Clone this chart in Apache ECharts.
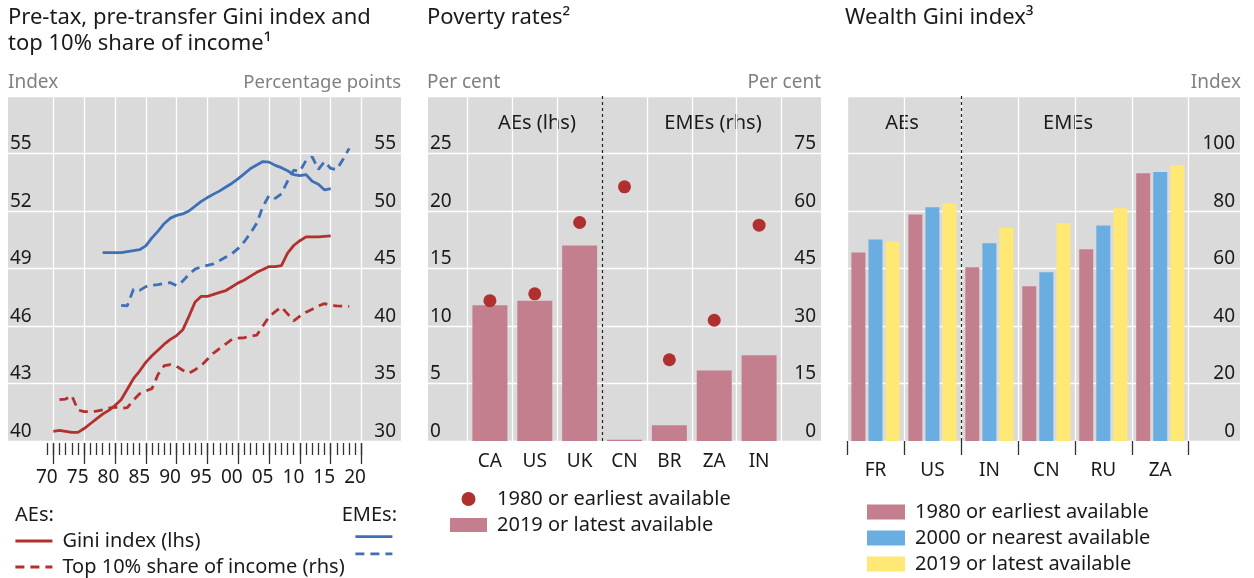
<!DOCTYPE html>
<html>
<head>
<meta charset="utf-8">
<script src="https://cdn.jsdelivr.net/npm/echarts@6/dist/echarts.min.js"></script>
<style>
html, body { margin: 0; padding: 0; background: #fff; }
#chart { width: 1254px; height: 578px; }
</style>
</head>
<body>
<div id="chart"></div>
<script>
var FONT = '"Noto Sans", sans-serif';
var INK = '#1a1a1a', GREY = '#808080', PANEL = '#dadada';
var RED = '#b2312e', BLUE = '#3f6fb6', DOT = '#b0302f';
var PINK = '#c47f8f', SKY = '#6aade0', YELLOW = '#ffe874';

// left panel: pre-tax Gini (lhs) and top 10% share (rhs), one value per year
var aeGiniStart = 1970;
var aeGini = [40.5, 40.55, 40.5, 40.45, 40.45, 40.65, 40.9, 41.15, 41.4, 41.6,
	41.85, 42.15, 42.7, 43.25, 43.65, 44.1, 44.45, 44.75, 45.05, 45.3,
	45.5, 45.8, 46.5, 47.25, 47.55, 47.55, 47.65, 47.75, 47.85, 48.05,
	48.25, 48.4, 48.6, 48.8, 48.95, 49.1, 49.1, 49.15, 49.8, 50.2,
	50.45, 50.65, 50.65, 50.65, 50.68, 50.7];
var emeGiniStart = 1978;
var emeGini = [49.83, 49.83,
	49.83, 49.83, 49.88, 49.93, 49.98, 50.18, 50.6, 50.95, 51.35, 51.63,
	51.77, 51.85, 52.0, 52.25, 52.5, 52.7, 52.88, 53.05, 53.25, 53.45,
	53.69, 53.95, 54.22, 54.4, 54.58, 54.55, 54.38, 54.26, 54.1, 53.9,
	53.85, 53.9, 53.55, 53.4, 53.1, 53.17];
var aeTop10Start = 1971;
var aeTop10 = [33.6, 33.65, 33.95, 32.7, 32.55, 32.55, 32.6, 32.7, 32.85,
	32.95, 32.85, 32.9, 33.55, 34.1, 34.35, 34.55, 35.8, 36.55, 36.65,
	36.5, 36.15, 35.9, 36.2, 36.55, 37.1, 37.65, 38.05, 38.45, 38.85,
	38.95, 38.98, 39.1, 39.2, 40.0, 40.8, 41.25, 41.65, 41.05, 40.45,
	40.85, 41.2, 41.45, 41.75, 41.95, 41.8, 41.75, 41.72, 41.7];
var emeTop10Start = 1981;
var emeTop10 = [41.8, 41.75, 43.2, 43.1, 43.42, 43.55, 43.6, 43.7, 43.77,
	43.5, 43.9, 44.5, 44.95, 45.15, 45.28, 45.4, 45.7, 46.0, 46.3,
	46.75, 47.35, 48.1, 48.93, 50.4, 51.35, 51.1, 51.5, 52.6, 53.55,
	53.45, 54.4, 54.7, 53.62, 54.3, 53.7, 53.6, 54.5, 55.45];
var yearTicks = [1970, 1975, 1980, 1985, 1990, 1995, 2000, 2005, 2010, 2015, 2020];
var yearMinorTicks = [];
for( var yr = 1969; yr <= 2020; yr++ ){
	yearMinorTicks.push( yr );
}

// middle panel: poverty rates, AEs on lhs and EMEs on rhs
var povertyCountries = ['CA', 'US', 'UK', 'CN', 'BR', 'ZA', 'IN'];
var povertyAEcount = 3;
var povertyEarliest = [12.2, 12.8, 19.0, 66.3, 21.2, 31.5, 56.3];
var povertyLatest = [11.8, 12.2, 17.0, 0.3, 4.1, 18.4, 22.4];

// right panel: wealth Gini
var wealthCountries = ['FR', 'US', 'IN', 'CN', 'RU', 'ZA'];
var wealthAEcount = 2;
var wealthEarliest = [65.6, 78.8, 60.4, 53.8, 66.7, 93.1];
var wealthNearest2000 = [70.1, 81.3, 68.8, 58.7, 75.0, 93.6];
var wealthLatest = [69.4, 82.7, 74.1, 75.7, 81.0, 95.9];

var yearPairs = function(start, vals){
	return vals.map( function(v, i){ return [start + i, v]; } );
};
var indexPairs = function(vals, from, to){
	var out = [];
	for( var i = from; i < to; i++ ){
		out.push( [i, vals[i]] );
	}
	return out;
};
var allIdx = function(list){
	return list.map( function(c, i){ return i; } );
};
var between = function(list){
	var out = [];
	for( var i = 0; i <= list.length; i++ ){
		out.push( i - 0.5 );
	}
	return out;
};

var splitWhite = {show:true, lineStyle:{color:'#ffffff', width:1.3}};
var noLine = {show:false};

var txt = function(text, x, y, align, size, color){
	return {
		type:'text', x:x, y:y, silent:true,
		style:{text:text, fill:color || INK, font:(size || 20) + 'px ' + FONT,
			align:align || 'left', verticalAlign:'middle'}
	};
};

var legendText = {color:INK, fontSize:20, fontFamily:FONT, padding:[0, 0, 0, 5], lineHeight:20};
// line legends: keep the line, hide the marker ECharts adds to it
var lineLegendItem = {opacity:0};
var lineLegendLine = {width:2.8};

// gridlines of the middle panel sit between the countries, except at the dashed divider
var povertyGrid = between( povertyCountries ).filter( function(v){ return v !== povertyAEcount - 0.5; } );

var divider = function(at){
	return {
		silent:true, symbol:'none', label:{show:false},
		lineStyle:{color:'#222', width:1.2, type:[3, 3]},
		data:[{xAxis:at}]
	};
};

var option = {
	animation:false,
	textStyle:{fontFamily:FONT},
	grid:[
		{left:8, top:96, width:393, height:345, show:true, backgroundColor:PANEL, borderWidth:0},
		{left:428, top:96, width:393, height:345, show:true, backgroundColor:PANEL, borderWidth:0},
		{left:847, top:96, width:393, height:345, show:true, backgroundColor:PANEL, borderWidth:0}
	],
	xAxis:[
		{
			gridIndex:0, type:'value', position:'bottom', min:1962.65, max:2026.4, offset:2,
			axisLine:noLine,
			axisTick:{show:true, customValues:yearTicks, length:21, lineStyle:{color:'#333', width:1.3}},
			axisLabel:{customValues:yearTicks, margin:25, color:INK, fontSize:19, padding:[0, 13, 0, 0],
				formatter:function(v){ return String( v ).slice( 2 ); }},
			splitLine:splitWhite
		},
		{
			gridIndex:0, type:'value', position:'bottom', min:1962.65, max:2026.4, offset:2,
			axisLine:noLine,
			axisTick:{show:true, customValues:yearMinorTicks, length:12, lineStyle:{color:'#333', width:1.3}},
			axisLabel:{show:false},
			splitLine:noLine
		},
		{
			gridIndex:1, type:'value', position:'bottom', min:-1.38, max:7.38,
			axisLine:noLine,
			axisTick:{show:false, customValues:povertyGrid},
			axisLabel:{customValues:allIdx( povertyCountries ), margin:11, color:INK, fontSize:19,
				formatter:function(v){ return povertyCountries[Math.round( v )]; }},
			splitLine:splitWhite
		},
		{
			gridIndex:2, type:'value', position:'bottom', min:-0.5, max:6.4,
			axisLine:noLine,
			axisTick:{show:true, customValues:between( wealthCountries ), length:14, lineStyle:{color:'#333', width:1.3}},
			axisLabel:{customValues:allIdx( wealthCountries ), margin:20, color:INK, fontSize:19,
				formatter:function(v){ return wealthCountries[Math.round( v )]; }},
			splitLine:splitWhite
		}
	],
	yAxis:[
		{
			gridIndex:0, type:'value', position:'left', min:40, max:58, interval:3,
			axisLine:noLine, axisTick:noLine,
			axisLabel:{inside:true, margin:2, color:INK, fontSize:19, verticalAlign:'bottom', showMaxLabel:false},
			splitLine:splitWhite
		},
		{
			gridIndex:0, type:'value', position:'right', min:30, max:60, interval:5,
			axisLine:noLine, axisTick:noLine,
			axisLabel:{inside:true, margin:5, color:INK, fontSize:19, verticalAlign:'bottom', showMaxLabel:false},
			splitLine:noLine
		},
		{
			gridIndex:1, type:'value', position:'left', min:0, max:30, interval:5,
			axisLine:noLine, axisTick:noLine,
			axisLabel:{inside:true, margin:2, color:INK, fontSize:19, verticalAlign:'bottom', showMaxLabel:false},
			splitLine:splitWhite
		},
		{
			gridIndex:1, type:'value', position:'right', min:0, max:90, interval:15,
			axisLine:noLine, axisTick:noLine,
			axisLabel:{inside:true, margin:5, color:INK, fontSize:19, verticalAlign:'bottom', showMaxLabel:false},
			splitLine:noLine
		},
		{
			gridIndex:2, type:'value', position:'right', min:0, max:120, interval:20,
			axisLine:noLine, axisTick:noLine,
			axisLabel:{inside:true, margin:5, color:INK, fontSize:19, verticalAlign:'bottom', showMaxLabel:false},
			splitLine:splitWhite
		}
	],
	legend:[
		{
			left:14, top:531, padding:0, orient:'vertical', itemWidth:37, itemHeight:14, itemGap:6,
			selectedMode:false, textStyle:legendText, itemStyle:lineLegendItem, lineStyle:lineLegendLine,
			data:['Gini index (lhs)', 'Top 10% share of income (rhs)']
		},
		{
			left:354, top:531, padding:0, orient:'vertical', itemWidth:37, itemHeight:14, itemGap:6,
			selectedMode:false, textStyle:legendText, itemStyle:lineLegendItem, lineStyle:lineLegendLine,
			data:['EMEs Gini index', 'EMEs top 10% share'],
			formatter:function(){ return ''; }
		},
		{
			left:450, top:489, padding:0, orient:'vertical', itemWidth:37, itemHeight:14, itemGap:6,
			selectedMode:false, textStyle:legendText,
			data:[{name:'1980 or earliest available', icon:'circle'}, {name:'2019 or latest available', icon:'rect'}]
		},
		{
			left:867, top:502, padding:0, orient:'vertical', itemWidth:38, itemHeight:15, itemGap:6,
			selectedMode:false, textStyle:legendText, icon:'rect',
			data:['wealth|1980 or earliest available', 'wealth|2000 or nearest available', 'wealth|2019 or latest available'],
			formatter:function(name){ return name.split( '|' ).pop(); }
		}
	],
	series:[
		{
			name:'Gini index (lhs)', type:'line', xAxisIndex:0, yAxisIndex:0,
			data:yearPairs( aeGiniStart, aeGini ), symbol:'none', color:RED,
			lineStyle:{color:RED, width:2.8}
		},
		{
			name:'Top 10% share of income (rhs)', type:'line', xAxisIndex:0, yAxisIndex:1,
			data:yearPairs( aeTop10Start, aeTop10 ), symbol:'none', color:RED,
			lineStyle:{color:RED, width:2.8, type:[9, 6]}
		},
		{
			name:'EMEs Gini index', type:'line', xAxisIndex:0, yAxisIndex:0,
			data:yearPairs( emeGiniStart, emeGini ), symbol:'none', color:BLUE,
			lineStyle:{color:BLUE, width:2.8}
		},
		{
			name:'EMEs top 10% share', type:'line', xAxisIndex:0, yAxisIndex:1,
			data:yearPairs( emeTop10Start, emeTop10 ), symbol:'none', color:BLUE,
			lineStyle:{color:BLUE, width:2.8, type:[9, 6]}
		},
		{
			name:'2019 or latest available', type:'bar', xAxisIndex:2, yAxisIndex:2,
			data:indexPairs( povertyLatest, 0, povertyAEcount ), barWidth:35, barGap:'-100%',
			itemStyle:{color:PINK},
			markLine:divider( povertyAEcount - 0.5 )
		},
		{
			name:'2019 or latest available', type:'bar', xAxisIndex:2, yAxisIndex:3,
			data:indexPairs( povertyLatest, povertyAEcount, povertyCountries.length ), barWidth:35, barGap:'-100%',
			itemStyle:{color:PINK}
		},
		{
			name:'1980 or earliest available', type:'scatter', xAxisIndex:2, yAxisIndex:2,
			data:indexPairs( povertyEarliest, 0, povertyAEcount ), symbolSize:13,
			itemStyle:{color:DOT, opacity:1}
		},
		{
			name:'1980 or earliest available', type:'scatter', xAxisIndex:2, yAxisIndex:3,
			data:indexPairs( povertyEarliest, povertyAEcount, povertyCountries.length ), symbolSize:13,
			itemStyle:{color:DOT, opacity:1}
		},
		{
			name:'wealth|1980 or earliest available', type:'bar', xAxisIndex:3, yAxisIndex:4,
			data:indexPairs( wealthEarliest, 0, wealthCountries.length ), barWidth:14, barGap:'22%',
			itemStyle:{color:PINK}
		},
		{
			// middle bar of each group sits on the country centre, so the divider goes here
			name:'wealth|2000 or nearest available', type:'bar', xAxisIndex:3, yAxisIndex:4,
			data:indexPairs( wealthNearest2000, 0, wealthCountries.length ), barWidth:14, barGap:'22%',
			itemStyle:{color:SKY},
			markLine:divider( wealthAEcount - 0.5 )
		},
		{
			name:'wealth|2019 or latest available', type:'bar', xAxisIndex:3, yAxisIndex:4,
			data:indexPairs( wealthLatest, 0, wealthCountries.length ), barWidth:14, barGap:'22%',
			itemStyle:{color:YELLOW}
		}
	],
	graphic:[
		txt( 'Pre-tax, pre-transfer Gini index and', 8, 18, 'left', 22 ),
		txt( 'top 10% share of income\u00b9', 8, 44, 'left', 22 ),
		txt( 'Poverty rates\u00b2', 427, 18, 'left', 22 ),
		txt( 'Wealth Gini index\u00b3', 845, 18, 'left', 22 ),
		txt( 'Index', 8, 83, 'left', 19, GREY ),
		txt( 'Percentage points', 401, 83, 'right', 18.5, GREY ),
		txt( 'Per cent', 427, 83, 'left', 19, GREY ),
		txt( 'Per cent', 821, 83, 'right', 19, GREY ),
		txt( 'Index', 1241, 83, 'right', 19, GREY ),
		txt( 'AEs (lhs)', 537, 123, 'center', 20 ),
		txt( 'EMEs (rhs)', 713, 123, 'center', 20 ),
		txt( 'AEs', 902, 123, 'center', 20 ),
		txt( 'EMEs', 1068, 123, 'center', 20 ),
		txt( 'AEs:', 15, 515, 'left', 20 ),
		txt( 'EMEs:', 397, 515, 'right', 20 )
	]
};

var chart = echarts.init( document.getElementById( 'chart' ), null, {renderer:'canvas'} );
chart.setOption( option );
</script>
</body>
</html>
